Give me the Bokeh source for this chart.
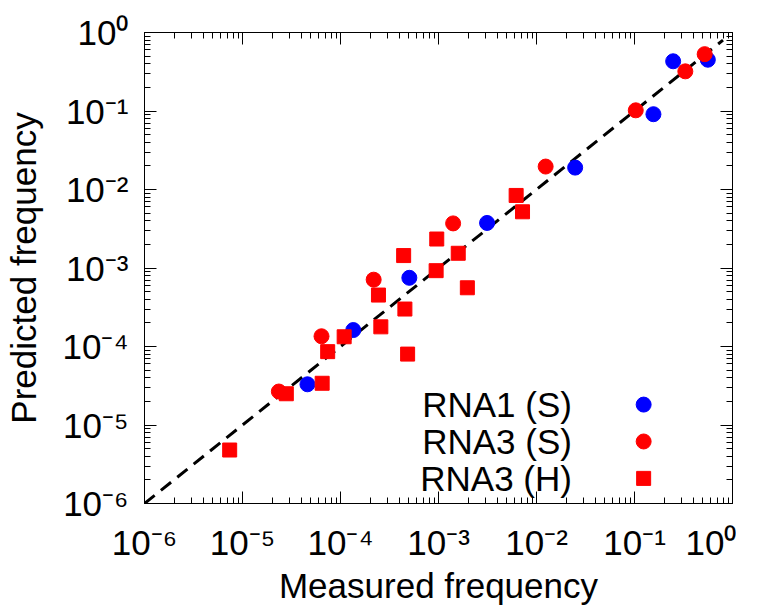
from bokeh.plotting import figure
from bokeh.models import Range1d, LogAxis, FixedTicker
from bokeh.core.properties import value
from bokeh.embed import file_html
from bokeh.resources import INLINE

# ---------------- data ----------------
rna1_s_x = [0.248, 0.56, 0.156, 0.0248, 0.00313, 0.000504, 0.000135, 4.6e-5]
rna1_s_y = [0.43, 0.45, 0.091, 0.019, 0.00375, 0.00075, 0.000162, 3.3e-5]

rna3_s_x = [0.52, 0.33, 0.103, 0.0124, 0.00141, 0.000218, 6.4e-5, 2.35e-5]
rna3_s_y = [0.53, 0.32, 0.102, 0.0196, 0.0037, 0.00071, 0.000135, 2.67e-5]

rna3_h_x = [0.0062, 0.0072, 0.00096, 0.000441, 0.00159, 0.000946, 0.00197,
            0.000244, 0.000454, 0.000258, 0.000109, 7.4e-5, 0.000484,
            6.5e-5, 2.8e-5, 7.4e-6]
rna3_h_y = [0.0084, 0.0052, 0.00234, 0.00144, 0.00154, 0.000925, 0.00056,
            0.000452, 0.0003, 0.000178, 0.000133, 8.6e-5, 8.0e-5,
            3.4e-5, 2.5e-5, 4.8e-6]

diag_x = [1e-6, 0.8]
diag_y = [1e-6, 0.8]

major_ticks = [1e-6, 1e-5, 1e-4, 1e-3, 1e-2, 1e-1, 1.0]
tick_labels = ["10\u207b\u2076", "10\u207b\u2075", "10\u207b\u2074", "10\u207b\u00b3",
               "10\u207b\u00b2", "10\u207b\u00b9", "10\u2070"]
minor_ticks = [m * 10.0 ** k for k in range(-6, 0) for m in range(2, 10)]

legend_labels = ["RNA1 (S)", "RNA3 (S)", "RNA3 (H)"]
x_label = "Measured frequency"
y_label = "Predicted frequency"

# ---------------- style / layout ----------------
FONT = "Liberation Sans"
FS = "35px"
BLUE = "#0000ff"
RED = "#ff0000"
MSIZE = 15
leg_text_x = 0.023
leg_mark_x = 0.124
leg_rows_y = [10 ** -4.74, 10 ** -5.21, 10 ** -5.68]

p = figure(frame_width=588, frame_height=471, x_axis_type="log", y_axis_type="log",
           x_range=Range1d(1e-6, 1), y_range=Range1d(1e-6, 1),
           output_backend="svg", toolbar_location=None,
           min_border_left=138, min_border_right=4,
           min_border_top=32, min_border_bottom=4)
p.grid.visible = False
p.outline_line_color = "black"
p.outline_line_width = 1
p.background_fill_color = "white"
p.border_fill_color = "white"


def style_axis(ax, show_labels):
    ax.ticker = FixedTicker(ticks=major_ticks, minor_ticks=minor_ticks)
    ax.major_tick_in = 12
    ax.major_tick_out = 0
    ax.minor_tick_in = 6
    ax.minor_tick_out = 0
    ax.axis_line_color = "black"
    ax.major_tick_line_color = "black"
    ax.minor_tick_line_color = "black"
    if show_labels:
        ax.major_label_overrides = {t: l for t, l in zip(major_ticks, tick_labels)}
        ax.major_label_text_font = FONT
        ax.major_label_text_font_size = FS
        ax.major_label_text_color = "black"
        ax.axis_label_text_font = FONT
        ax.axis_label_text_font_size = FS
        ax.axis_label_text_font_style = "normal"
        ax.axis_label_text_color = "black"
    else:
        ax.major_label_text_font_size = "1px"
        ax.major_label_text_alpha = 0
        ax.major_label_standoff = 0


xa = p.xaxis[0]
ya = p.yaxis[0]
style_axis(xa, True)
style_axis(ya, True)
xa.axis_label = x_label
ya.axis_label = y_label
xa.major_label_standoff = 19
xa.axis_label_standoff = 1
ya.major_label_standoff = 16
ya.axis_label_standoff = 17

top = LogAxis()
right = LogAxis()
style_axis(top, False)
style_axis(right, False)
p.add_layout(top, "above")
p.add_layout(right, "right")

# diagonal
p.line(diag_x, diag_y, line_color="black", line_width=3, line_dash="13 8")

# data
p.scatter(rna1_s_x, rna1_s_y, marker="circle", size=MSIZE,
          fill_color=BLUE, line_color=BLUE)
p.scatter(rna3_s_x, rna3_s_y, marker="circle", size=MSIZE,
          fill_color=RED, line_color=RED)
p.scatter(rna3_h_x, rna3_h_y, marker="square", size=MSIZE - 1,
          fill_color=RED, line_color=RED)

# legend (text then marker)
p.text([leg_text_x] * 3, leg_rows_y, text=legend_labels,
       text_align="right", text_baseline="middle",
       text_font=value(FONT), text_font_size=FS, text_color="black")
p.scatter([leg_mark_x] * 2, leg_rows_y[:2], marker="circle", size=MSIZE,
          fill_color=[BLUE, RED], line_color=[BLUE, RED])
p.scatter([leg_mark_x], leg_rows_y[2:], marker="square", size=MSIZE - 1,
          fill_color=RED, line_color=RED)

open("out.html", "w").write(file_html(p, INLINE))
